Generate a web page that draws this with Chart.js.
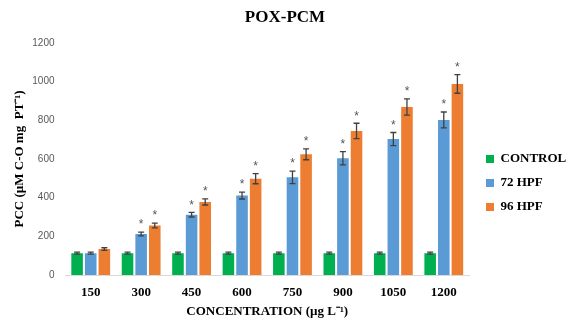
<!DOCTYPE html>
<html>
<head>
<meta charset="utf-8">
<script src="https://cdn.jsdelivr.net/npm/chart.js@4.4.1/dist/chart.umd.min.js"></script>
<style>
html,body{margin:0;padding:0;background:#fff;}
#wrap{width:570px;height:324px;}
</style>
</head>
<body>
<div id="wrap"><canvas id="c" width="570" height="324"></canvas></div>
<script>
const categories = ['150','300','450','600','750','900','1050','1200'];
const seriesNames = ['CONTROL','72 HPF','96 HPF'];
const control = [113,113,113,113,113,113,113,113];
const hpf72 = [113,212,312,411,505,604,703,802];
const hpf96 = [134,256,378,498,624,745,869,988];
const errControl = [5,5,5,5,5,5,5,5];
const err72 = [5,10,12,18,32,34,34,41];
const err96 = [7,12,16,26,28,40,42,48];
const sigControl = [0,0,0,0,0,0,0,0];
const sig72 = [0,1,1,1,1,1,1,1];
const sig96 = [0,1,1,1,1,1,1,1];
const yTicks = [0,200,400,600,800,1000,1200];

const colors = ['#00B050','#5B9BD5','#ED7D31'];
const errs = [errControl, err72, err96];
const sigs = [sigControl, sig72, sig96];

const errPlugin = {
  id: 'errbars',
  afterLayout(chart) {
    const L = chart.legend;
    if (L) { L.left += 6; L.right += 6; L.top += 21; L.bottom += 21; }
  },
  afterDatasetsDraw(chart) {
    const ctx = chart.ctx, ys = chart.scales.y;
    chart.data.datasets.forEach((ds, i) => {
      const meta = chart.getDatasetMeta(i);
      meta.data.forEach((bar, j) => {
        const v = ds.data[j], e = errs[i][j];
        const yt = ys.getPixelForValue(v + e), yb = ys.getPixelForValue(v - e);
        const x = bar.x;
        ctx.save();
        ctx.strokeStyle = '#404040';
        ctx.lineWidth = 1.3;
        ctx.beginPath();
        ctx.moveTo(x, yt); ctx.lineTo(x, yb);
        ctx.moveTo(x - 3, yt); ctx.lineTo(x + 3, yt);
        ctx.moveTo(x - 3, yb); ctx.lineTo(x + 3, yb);
        ctx.stroke();
        if (sigs[i][j]) {
          ctx.fillStyle = '#555555';
          ctx.font = '12px "Liberation Sans"';
          ctx.textAlign = 'center';
          ctx.textBaseline = 'middle';
          ctx.fillText('*', x, yt - 7);
        }
        ctx.restore();
      });
    });
  }
};

new Chart(document.getElementById('c'), {
  type: 'bar',
  data: {
    labels: categories,
    datasets: [
      {label: seriesNames[0], data: control, backgroundColor: colors[0]},
      {label: seriesNames[1], data: hpf72, backgroundColor: colors[1]},
      {label: seriesNames[2], data: hpf96, backgroundColor: colors[2]}
    ]
  },
  options: {
    responsive: false,
    animation: false,
    layout: {padding: {left: 0, right: 0, top: 0, bottom: 0}},
    datasets: {bar: {categoryPercentage: 0.81, barPercentage: 0.85}},
    plugins: {
      title: {
        display: true, text: 'POX-PCM', color: '#000',
        font: {family: '"Liberation Serif"', size: 17, weight: 'bold'},
        padding: {top: 7, bottom: 15.6}
      },
      legend: {
        position: 'right',
        maxWidth: 101,
        labels: {
          color: '#000', boxWidth: 8, boxHeight: 8, padding: 11,
          font: {family: '"Liberation Serif"', size: 13, weight: 'bold'}
        }
      },
      tooltip: {enabled: false}
    },
    scales: {
      x: {
        afterFit(axis) { axis.height = 49; },
        grid: {display: false, drawTicks: false},
        border: {display: true, color: '#D9D9D9', width: 1},
        ticks: {color: '#000', padding: 10, font: {family: '"Liberation Serif"', size: 13, weight: 'bold'}},
        title: {display: true, text: 'CONCENTRATION (µg L⁻¹)', color: '#000', padding: {top: 0, bottom: 5},
          font: {family: '"Liberation Serif"', size: 13, weight: 'bold'}}
      },
      y: {
        min: 0, max: 1200,
        afterFit(axis) { axis.width = 65.5; },
        afterBuildTicks(axis) { axis.ticks = yTicks.map(v => ({value: v})); },
        grid: {display: false, drawTicks: false},
        border: {display: false},
        ticks: {color: '#595959', padding: 11, font: {family: '"Liberation Sans"', size: 10},
          callback: (v) => String(v)},
        title: {display: true, text: 'PCC (µM C-O mg  PT⁻¹)', color: '#000', padding: {top: 12, bottom: 0},
          font: {family: '"Liberation Serif"', size: 13, weight: 'bold'}}
      }
    }
  },
  plugins: [errPlugin]
});
</script>
</body>
</html>
